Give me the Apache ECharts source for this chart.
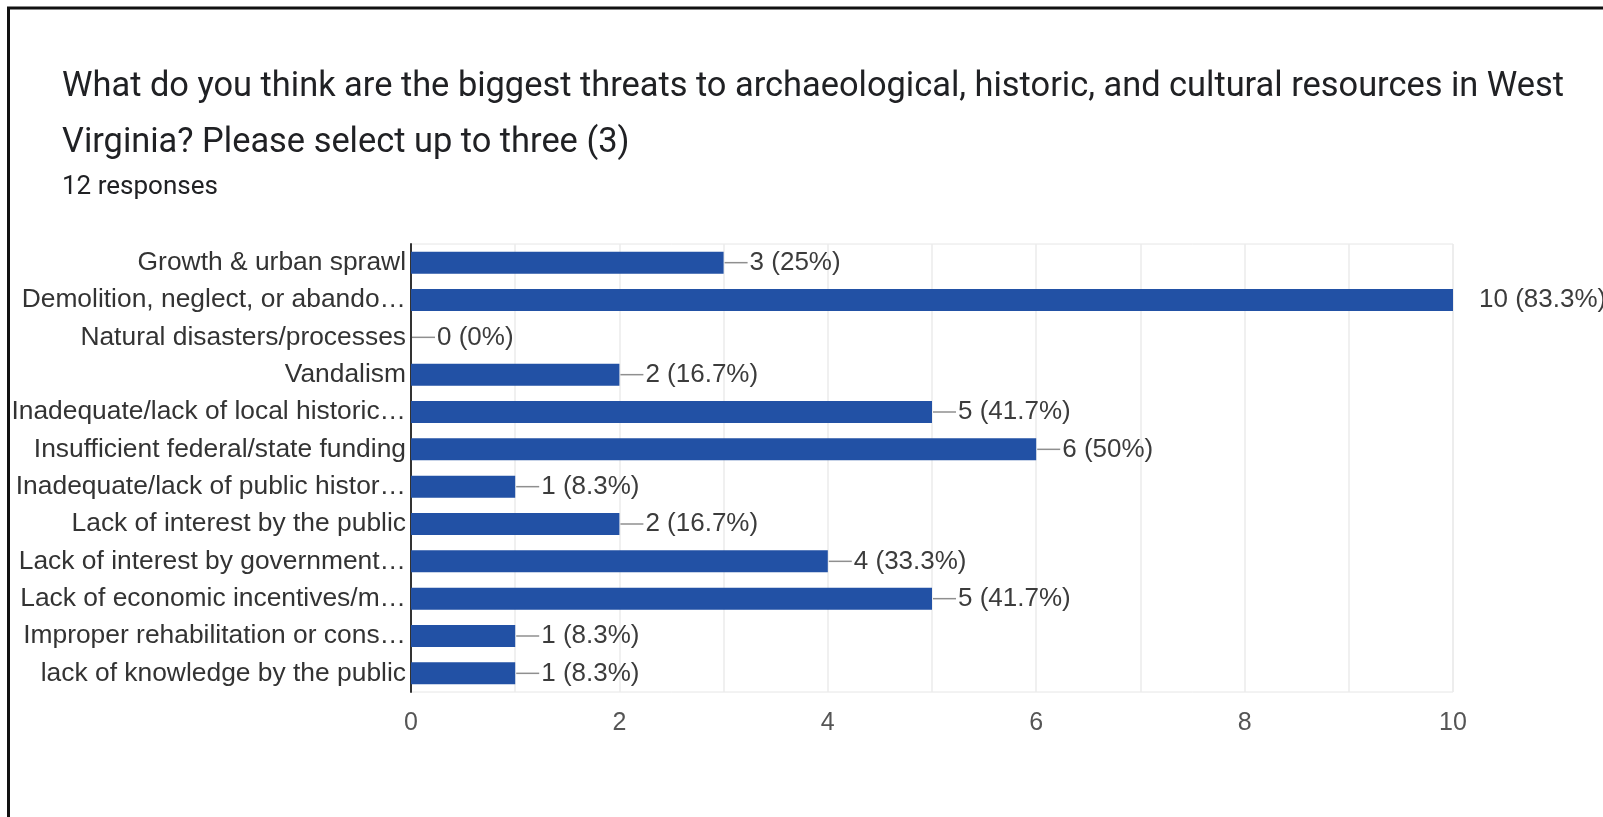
<!DOCTYPE html>
<html>
<head>
<meta charset="utf-8">
<title>Threats to cultural resources</title>
<script src="https://cdn.jsdelivr.net/npm/echarts@6/dist/echarts.min.js"></script>
<style>
  html, body { margin: 0; padding: 0; background: #ffffff; }
  #chart { width: 1603px; height: 817px; }
</style>
</head>
<body>
<div id="chart"></div>
<script>
// Survey answers, top to bottom as listed on the form
const categories = [
  'Growth & urban sprawl',
  'Demolition, neglect, or abando\u2026',
  'Natural disasters/processes',
  'Vandalism',
  'Inadequate/lack of local historic\u2026',
  'Insufficient federal/state funding',
  'Inadequate/lack of public histor\u2026',
  'Lack of interest by the public',
  'Lack of interest by government\u2026',
  'Lack of economic incentives/m\u2026',
  'Improper rehabilitation or cons\u2026',
  'lack of knowledge by the public'
];
// Number of respondents choosing each answer
const counts = [3, 10, 0, 2, 5, 6, 1, 2, 4, 5, 1, 1];
// Share of the 12 respondents
const percents = ['25%', '83.3%', '0%', '16.7%', '41.7%', '50%', '8.3%', '16.7%', '33.3%', '41.7%', '8.3%', '8.3%'];
// Labelled ticks on the count axis
const countTicks = [0, 2, 4, 6, 8, 10];

const titleLines = [
  'What do you think are the biggest threats to archaeological, historic, and cultural resources in West',
  'Virginia? Please select up to three (3)'
];
const responsesNote = '12 responses';

const LABEL_FONT = '"Liberation Sans", Arial, sans-serif';
const TITLE_FONT = 'Roboto, "Noto Sans", sans-serif';
const BAR_BLUE = '#2251a5';

const chart = echarts.init(document.getElementById('chart'), null, { renderer: 'canvas' });

const option = {
  backgroundColor: '#ffffff',
  animation: false,
  title: {
    text: titleLines.join('\n'),
    subtext: responsesNote,
    left: 62,
    top: 59,
    padding: 0,
    itemGap: 1,
    textStyle: {
      fontFamily: TITLE_FONT,
      fontSize: 34.4,
      fontWeight: 'normal',
      lineHeight: 56,
      color: '#202124'
    },
    subtextStyle: {
      fontFamily: TITLE_FONT,
      fontSize: 26,
      lineHeight: 30,
      color: '#202124'
    }
  },
  graphic: [
    // frame edges along the top and left
    { type: 'line', silent: true, shape: { x1: 7, y1: 8, x2: 1603, y2: 8 }, style: { stroke: '#111111', lineWidth: 3 } },
    { type: 'line', silent: true, shape: { x1: 8.5, y1: 7, x2: 8.5, y2: 817 }, style: { stroke: '#111111', lineWidth: 3 } }
  ],
  grid: {
    left: 411,
    top: 244,
    width: 1042,
    height: 448,
    show: true,
    borderColor: '#e6e6e6',
    borderWidth: 1,
    containLabel: false
  },
  xAxis: {
    type: 'value',
    min: countTicks[0],
    max: countTicks[countTicks.length - 1],
    interval: countTicks[1] - countTicks[0],
    axisLine: { show: false },
    axisTick: { show: false },
    axisLabel: {
      margin: 19,
      fontFamily: LABEL_FONT,
      fontSize: 25,
      color: '#555555'
    },
    splitLine: { show: true, lineStyle: { color: '#ebebeb', width: 1.5 } },
    minorTick: { show: false, splitNumber: 2 },
    minorSplitLine: { show: true, lineStyle: { color: '#ebebeb', width: 1.5 } }
  },
  yAxis: {
    type: 'category',
    data: categories,
    inverse: true,
    axisLine: { show: true, lineStyle: { color: '#333333', width: 2 } },
    axisTick: { show: false },
    axisLabel: {
      margin: 5,
      fontFamily: LABEL_FONT,
      fontSize: 26.4,
      color: '#333333'
    },
    splitLine: { show: false }
  },
  series: [
    {
      type: 'bar',
      data: counts,
      barWidth: 22,
      itemStyle: { color: BAR_BLUE },
      z: 3,
      label: {
        show: true,
        position: 'right',
        distance: 26,
        fontFamily: LABEL_FONT,
        fontSize: 26,
        color: '#3c3c3c',
        formatter: (p) => counts[p.dataIndex] + ' (' + percents[p.dataIndex] + ')'
      }
    },
    {
      // short grey leader from each bar end to its value label
      type: 'custom',
      clip: true,
      silent: true,
      z: 4,
      data: counts.map((v, i) => [v, i]),
      encode: { x: 0, y: 1 },
      renderItem: (params, api) => {
        const p = api.coord([api.value(0), api.value(1)]);
        return {
          type: 'line',
          shape: { x1: p[0] + 1, y1: p[1], x2: p[0] + 24, y2: p[1] },
          style: { stroke: '#8f8f8f', lineWidth: 1.5 }
        };
      }
    }
  ]
};

chart.setOption(option);
</script>
</body>
</html>
